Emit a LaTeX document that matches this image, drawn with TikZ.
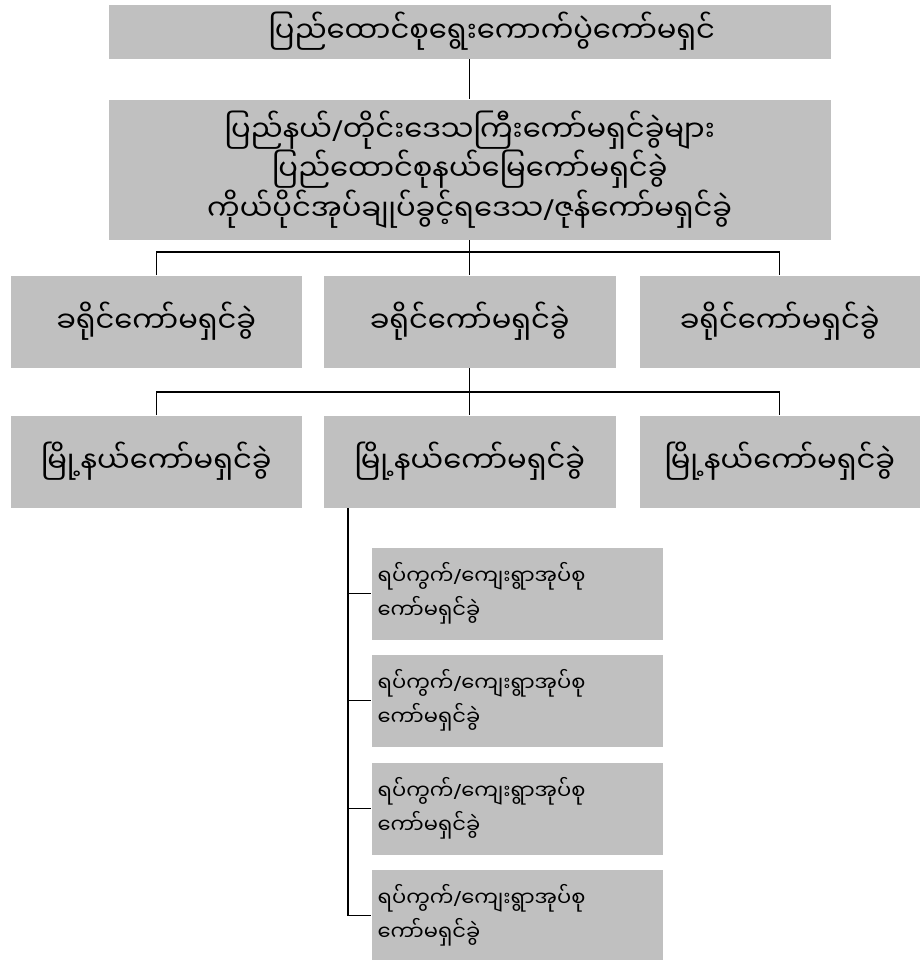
\documentclass[tikz,border=0pt]{standalone}
\usepackage{fontspec}
\newfontfamily\mmfont[Script=Myanmar]{Noto Sans Myanmar UI}
\newfontfamily\slashfont{Noto Sans}
\newcommand\mmslash{{\slashfont/}}
\definecolor{boxgray}{RGB}{192,192,192}
\begin{document}
\begin{tikzpicture}[x=1pt,y=-1pt,line width=1.3pt,
  box/.style={fill=boxgray, anchor=north west, inner sep=0pt, align=center, font=\mmfont\fontsize{29}{38}\selectfont},
  wardbox/.style={box, align=left, text width=279pt, font=\mmfont\fontsize{21}{34}\selectfont}]
\useasboundingbox (0,0) rectangle (919,960);
\node[box, minimum width=722pt, minimum height=54pt] (comm) at (108,4) {\hspace*{44pt}ပြည်ထောင်စုရွေးကောက်ပွဲကော်မရှင်};
\node[box, minimum width=722pt, minimum height=140pt] (region) at (108,99) {ပြည်နယ်\mmslash တိုင်းဒေသကြီးကော်မရှင်ခွဲများ\\ပြည်ထောင်စုနယ်မြေကော်မရှင်ခွဲ\\ကိုယ်ပိုင်အုပ်ချုပ်ခွင့်ရဒေသ\mmslash ဇုန်ကော်မရှင်ခွဲ};
\node[box, minimum width=291pt, minimum height=92pt] (dist1) at (10,275) {ခရိုင်ကော်မရှင်ခွဲ};
\node[box, minimum width=292pt, minimum height=92pt] (dist2) at (323,275) {ခရိုင်ကော်မရှင်ခွဲ};
\node[box, minimum width=280pt, minimum height=92pt] (dist3) at (639,275) {ခရိုင်ကော်မရှင်ခွဲ};
\node[box, minimum width=291pt, minimum height=92pt] (town1) at (10,415) {မြို့နယ်ကော်မရှင်ခွဲ};
\node[box, minimum width=292pt, minimum height=92pt] (town2) at (323,415) {မြို့နယ်ကော်မရှင်ခွဲ};
\node[box, minimum width=280pt, minimum height=92pt] (town3) at (639,415) {မြို့နယ်ကော်မရှင်ခွဲ};
\foreach \i/\y in {1/547,2/654,3/762,4/869}
  \node[wardbox, minimum width=291pt, minimum height=92pt] (ward\i) at (371,\y) {ရပ်ကွက်\mmslash ကျေးရွာအုပ်စု\\ကော်မရှင်ခွဲ};
\draw (comm.south) -- (region.north);
\draw (region.south) -- (dist2.north);
\draw (dist1.north) -- ++(0,-23) -| (dist3.north);
\draw (dist2.south) -- (town2.north);
\draw (town1.north) -- ++(0,-23) -| (town3.north);
\coordinate (trunk) at ([xshift=25pt]town2.south west);
\foreach \i in {1,...,4}
  \draw (trunk) |- (ward\i.west);
\end{tikzpicture}
\end{document}
